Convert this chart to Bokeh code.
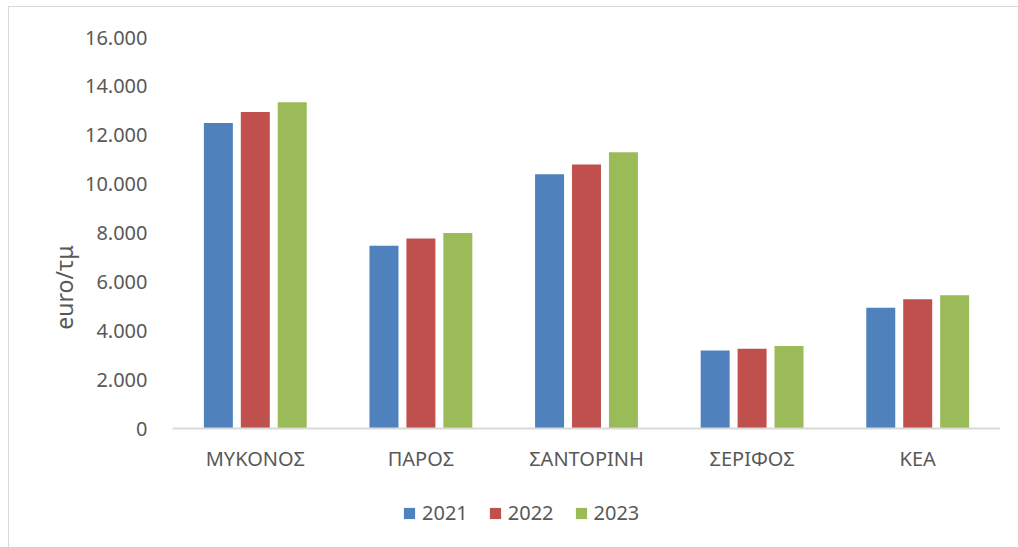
from bokeh.plotting import figure
from bokeh.models import FactorRange, Range1d, ColumnDataSource, FixedTicker, CustomJSTickFormatter
from bokeh.transform import dodge
from bokeh.embed import file_html
from bokeh.resources import INLINE

categories = ["ΜΥΚΟΝΟΣ", "ΠΑΡΟΣ", "ΣΑΝΤΟΡΙΝΗ", "ΣΕΡΙΦΟΣ", "ΚΕΑ"]
years = ["2021", "2022", "2023"]
values_2021 = [12500, 7480, 10400, 3190, 4940]
values_2022 = [12950, 7780, 10800, 3260, 5290]
values_2023 = [13350, 8000, 11300, 3380, 5450]
y_ticks = [0, 2000, 4000, 6000, 8000, 10000, 12000, 14000, 16000]
y_label = "euro/τμ"

colors = ["#4F81BD", "#C0504D", "#9BBB59"]
FONT = "Noto Sans"
TXT = "#595959"

src = ColumnDataSource(dict(cat=categories, y2021=values_2021, y2022=values_2022, y2023=values_2023))

# frame extends below zero so the legend can sit inside it; x axis pinned at y=0
p = figure(width=1018, height=545, x_range=FactorRange(*categories, range_padding=0),
           y_range=Range1d(-4460, 16000), output_backend="svg", toolbar_location=None,
           min_border_left=163, min_border_right=27, min_border_top=30, min_border_bottom=15)
p.styles = {"margin-left": "8px", "margin-top": "6px", "border": "1px solid #d9d9d9"}

offsets = [-0.223, 0.0, 0.223]
for yr, col, off in zip(years, colors, offsets):
    p.vbar(x=dodge("cat", off, range=p.x_range), top="y" + yr, width=0.175, source=src,
           fill_color=col, line_color=None, legend_label=yr)

p.xgrid.grid_line_color = None
p.ygrid.grid_line_color = None
p.outline_line_color = None

p.xaxis.fixed_location = 0
p.xaxis.axis_line_color = "#d9d9d9"
p.xaxis.axis_line_width = 2
p.xaxis.major_tick_line_color = None
p.xaxis.minor_tick_line_color = None
p.xaxis.major_label_standoff = 10
p.xaxis.major_label_text_font = FONT
p.xaxis.major_label_text_font_size = "20px"
p.xaxis.major_label_text_color = TXT

p.yaxis.bounds = (0, 16000)
p.yaxis.axis_line_color = None
p.yaxis.major_tick_line_color = None
p.yaxis.minor_tick_line_color = None
p.yaxis.ticker = FixedTicker(ticks=y_ticks)
p.yaxis.formatter = CustomJSTickFormatter(code="return tick.toFixed(0).replace(/\\B(?=(\\d{3})+(?!\\d))/g, '.');")
p.yaxis.major_label_standoff = 19
p.yaxis.major_label_text_font = FONT
p.yaxis.major_label_text_font_size = "20px"
p.yaxis.major_label_text_color = TXT
p.yaxis.axis_label = y_label
p.yaxis.axis_label_text_font = FONT
p.yaxis.axis_label_text_font_size = "23px"
p.yaxis.axis_label_text_font_style = "normal"
p.yaxis.axis_label_text_color = TXT
p.yaxis.axis_label_standoff = 2

lg = p.legend[0]
lg.orientation = "horizontal"
lg.location = (230, 11)
lg.border_line_color = None
lg.background_fill_alpha = 0
lg.label_text_font = FONT
lg.label_text_font_size = "20px"
lg.label_text_color = TXT
lg.glyph_width = 14
lg.glyph_height = 14
lg.label_standoff = 6
lg.spacing = 20
lg.padding = 4
lg.margin = 0

open("out.html", "w").write(file_html(p, INLINE))
